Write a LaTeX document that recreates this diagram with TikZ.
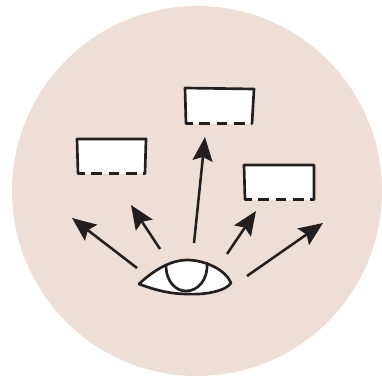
\documentclass[tikz,border=0pt]{standalone}
\usepackage{tikz}
\usetikzlibrary{arrows.meta}
\definecolor{blush}{RGB}{238,222,214}
\definecolor{inkline}{RGB}{35,31,32}
\tikzset{
  gaze/.style={draw=inkline, line width=1.9pt, -{Stealth[length=18pt, width=15pt, inset=3pt]}},
  outline/.style={draw=inkline, line width=2pt, line cap=round, line join=round},
  dashedge/.style={draw=inkline, line width=2.6pt, dash pattern=on 8pt off 5pt, dash phase=3pt}
}
\begin{document}
\begin{tikzpicture}[x=0.75pt, y=-0.75pt]
\useasboundingbox (0,0) rectangle (382,378);
% Background disc
\fill[blush] (197,191) circle[radius=138.75pt];

% Screens
\foreach \name/\xa/\ya/\xb/\yb/\xc/\yc/\xd/\yd in {
    screenleft/77/139/146/139/145/173.5/78/173.5,
    screentop/185/88/254/89/252/123.5/186/123.5,
    screenright/244/165/314/165/314/199.5/245/199.5} {
  \coordinate (\name a) at (\xa,\ya);
  \coordinate (\name b) at (\xb,\yb);
  \coordinate (\name c) at (\xc,\yc);
  \coordinate (\name d) at (\xd,\yd);
  \fill[white] (\name a) -- (\name b) -- (\name c) -- (\name d) -- cycle;
  \draw[outline] (\name d) -- (\name a) -- (\name b) -- (\name c);
  \draw[dashedge] (\name d) -- (\name c);
}

% Eye
\coordinate (eyeleft) at (139,284);
\coordinate (eyeright) at (231,283);
\coordinate (iristop) at (166,265);
\coordinate (irisend) at (207,263);
\filldraw[fill=white, outline] (eyeleft) .. controls (157,267) and (174,260) .. (187,260)
  .. controls (205,260) and (226,270) .. (231,283)
  .. controls (226,291) and (205,295) .. (188,294)
  .. controls (170,294) and (155,290) .. (eyeleft) -- cycle;
\draw[outline] (iristop) .. controls (166,282) and (176,291) .. (186,291)
  .. controls (198,291) and (208,280) .. (irisend);

% Gaze arrows
\foreach \name/\xs/\ys/\xe/\ye in {
    one/137/268/72/218,
    two/160/249/131/205,
    three/194/243/205/137,
    four/227/254/256/211,
    five/247/276/323/223} {
  \coordinate (\name start) at (\xs,\ys);
  \coordinate (\name end) at (\xe,\ye);
  \draw[gaze] (\name start) -- (\name end);
}
\end{tikzpicture}
\end{document}
